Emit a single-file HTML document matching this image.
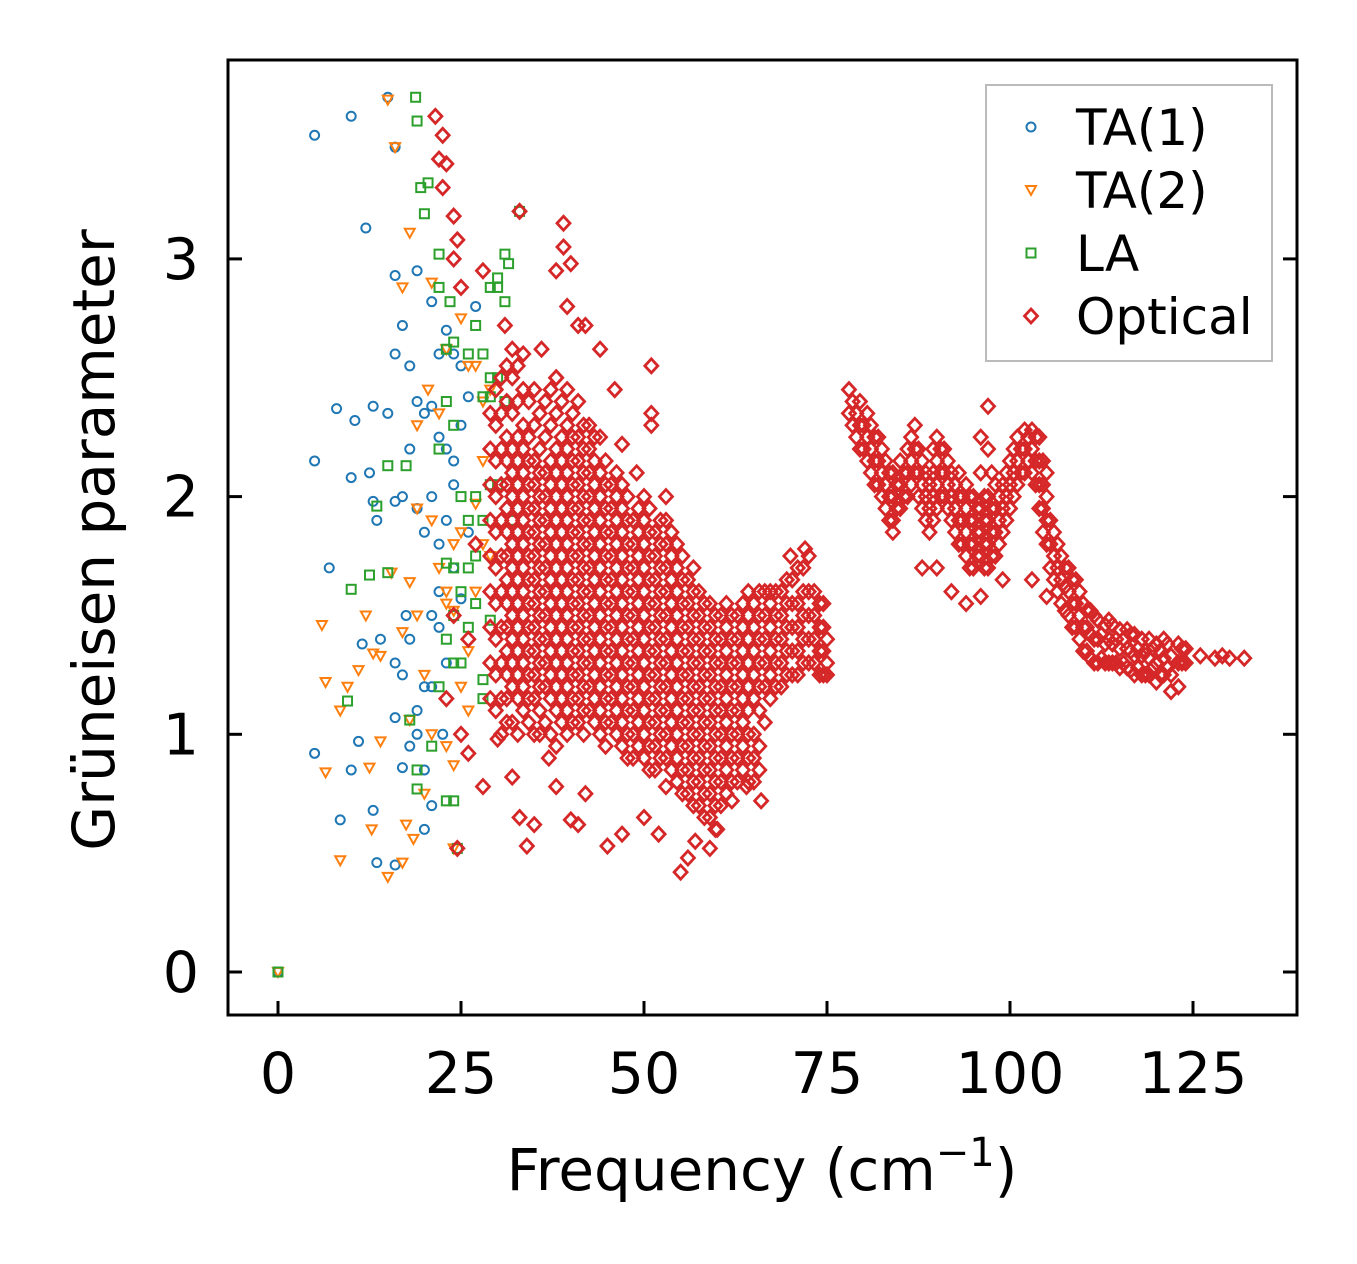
<!DOCTYPE html>
<html><head><meta charset="utf-8"><style>
html,body{margin:0;padding:0;background:#fff}
svg{display:block}
text{font-family:"DejaVu Sans","Liberation Sans",sans-serif;fill:#000}
</style></head><body>
<svg id="chart" width="1357" height="1264" viewBox="0 0 1357 1264" xmlns="http://www.w3.org/2000/svg">
<g id="marks"></g>
<rect x="228" y="60" width="1069" height="955" fill="none" stroke="#000" stroke-width="3"/>
<g id="axes"></g>
<text x="0" y="0" font-size="58" text-anchor="middle" transform="translate(114,540) rotate(-90)">Grüneisen parameter</text>
<text x="762" y="1190" font-size="58" text-anchor="middle">Frequency (cm<tspan dy="-24" font-size="40">−1</tspan><tspan dy="24">)</tspan></text>
<g>
<rect x="986" y="85" width="286" height="276" fill="#fff" stroke="#bbb" stroke-width="2"/>
<g id="legend-items"></g>
</g>
</svg>
<script>
const xTicks=[0,25,50,75,100,125];
const yTicks=[0,1,2,3];
const ta1=[[0,0],[5,3.52],[10,3.6],[12,3.13],[15,3.68],[16,3.47],[5,2.15],[8,2.37],[10.5,2.32],[13,2.38],[15,2.35],[10,2.08],[12.5,2.1],[13,1.98],[13.5,1.9],[7,1.7],[5,0.92],[10,0.85],[11,0.97],[8.5,0.64],[13,0.68],[13.5,0.46],[16,0.45],[11.5,1.38],[14,1.4],[16,2.93],[17,2.72],[19,2.95],[18,2.55],[16,2.6],[19,2.4],[20,2.35],[21,2.82],[21,2.38],[22,2.6],[23,2.7],[24,2.6],[25,2.55],[26,2.42],[27,2.8],[16,1.98],[17,2.0],[18,2.2],[19,1.95],[20,1.85],[21,2.0],[22,1.8],[23,1.9],[24,2.05],[16,1.3],[17,1.25],[18,1.4],[19,1.1],[20,1.2],[21,1.5],[22,1.6],[23,1.3],[16,1.07],[18,0.95],[20,0.85],[21,0.7],[20,0.6],[17,0.86],[19,1.0],[22,1.45],[24,1.7],[25,1.57],[26,1.85],[17.5,1.5],[21,1.2],[22.5,1.0],[22,2.25],[23,2.2],[24,2.15],[25,2.3]];
const ta2=[[0,0],[15,3.67],[16,3.47],[18,3.11],[17,2.88],[6,1.46],[6.5,1.22],[9.5,1.2],[8.5,1.1],[11,1.27],[12,1.5],[13,1.34],[14,1.33],[12.5,0.86],[14,0.97],[12.8,0.6],[6.5,0.84],[8.5,0.47],[15,0.4],[17,0.46],[17.5,0.62],[18.5,0.56],[15.5,1.68],[18,1.64],[17,1.43],[19,1.5],[20,1.25],[19,1.95],[21,1.9],[22,1.7],[23,1.6],[24,1.52],[25,1.2],[26,1.1],[19,2.3],[20.5,2.45],[21,2.9],[23,2.62],[25,2.75],[26,2.55],[27,2.55],[28,2.4],[29,2.45],[28,2.15],[27,1.97],[24,1.8],[22,2.35],[21,1.0],[20,0.75],[24,0.87],[23,0.95],[18,1.06],[27,1.6],[29,1.75],[24,0.52],[26,1.35],[28,1.8],[23,1.55],[25,1.85]];
const la=[[0,0],[18.8,3.68],[19,3.58],[19.5,3.3],[20.5,3.32],[20,3.19],[22,3.02],[33,3.2],[31,3.02],[31.5,2.98],[30,2.92],[29,2.88],[30,2.88],[31,2.82],[23.5,2.82],[22,2.88],[27,2.72],[26,2.6],[23,2.62],[24,2.65],[28,2.6],[29,2.5],[30,2.5],[31,2.4],[29,2.42],[28,2.42],[23,2.4],[24,2.3],[22,2.2],[17.5,2.13],[15,2.13],[12.5,1.67],[10,1.61],[13.5,1.96],[15,1.68],[9.5,1.14],[18,1.06],[19,0.85],[19,0.77],[23,0.72],[24,0.72],[24.5,0.52],[21,0.95],[22,1.2],[23,1.4],[24,1.5],[25,1.6],[26,1.7],[27,1.75],[28,1.9],[29,2.05],[30,2.05],[32,1.9],[26,1.9],[27,2.0],[25,2.0],[24,1.3],[25,1.3],[28,1.15],[28,1.23],[23,1.72],[24,1.7],[26,1.45],[27,1.55],[29,1.48]];
const opticalCols=[[29,[1.15,1.3,1.45,1.6,1.75,1.9,2.05,2.2,2.35]],[30.5,[1.0,1.15,1.3,1.45,1.6,1.75,1.9,2.05,2.2,2.35,2.5]],[32,[1.05,1.2,1.3,1.4,1.5,1.6,1.7,1.8,1.9,2.0,2.1,2.2,2.35,2.5,2.62]],[33.5,[1.1,1.2,1.3,1.4,1.5,1.6,1.7,1.8,1.9,2.0,2.1,2.2,2.3,2.45,2.6]],[35,[1.0,1.15,1.25,1.35,1.45,1.55,1.65,1.75,1.85,1.95,2.05,2.15,2.3,2.45]],[36.5,[1.05,1.2,1.3,1.4,1.5,1.6,1.7,1.8,1.9,2.0,2.1,2.25,2.4]],[38,[0.95,1.1,1.2,1.3,1.4,1.5,1.6,1.7,1.8,1.9,2.0,2.1,2.2,2.35,2.5]],[39.5,[1.0,1.1,1.2,1.3,1.4,1.5,1.6,1.7,1.8,1.9,2.0,2.1,2.2,2.3,2.45]],[41,[1.05,1.15,1.25,1.35,1.45,1.55,1.65,1.75,1.85,1.95,2.05,2.15,2.25,2.4]],[42.5,[1.1,1.2,1.3,1.4,1.5,1.6,1.7,1.8,1.9,2.0,2.1,2.2,2.3]],[44,[1.0,1.1,1.2,1.3,1.4,1.5,1.6,1.7,1.8,1.9,2.0,2.1,2.25]],[45.5,[1.05,1.15,1.25,1.35,1.45,1.55,1.65,1.75,1.85,1.95,2.05]],[47,[0.95,1.05,1.15,1.25,1.35,1.45,1.55,1.65,1.75,1.85,1.95,2.05]],[48.5,[0.9,1.0,1.1,1.2,1.3,1.4,1.5,1.6,1.7,1.8,1.9]],[50,[0.9,1.0,1.1,1.2,1.3,1.4,1.5,1.6,1.7,1.8,1.9,2.0]],[51.5,[0.85,0.95,1.05,1.15,1.25,1.35,1.45,1.55,1.65,1.75,1.85]],[53,[0.9,1.0,1.1,1.2,1.3,1.4,1.5,1.6,1.7,1.8,1.9]],[54.5,[0.8,0.9,1.0,1.1,1.2,1.3,1.4,1.5,1.6,1.7,1.8]],[56,[0.75,0.85,0.95,1.05,1.15,1.25,1.35,1.45,1.55,1.65]],[57.5,[0.7,0.8,0.9,1.0,1.1,1.2,1.3,1.4,1.5,1.6]],[59,[0.65,0.75,0.85,0.95,1.05,1.15,1.25,1.35,1.45,1.55]],[60.5,[0.7,0.8,0.9,1.0,1.1,1.2,1.3,1.4,1.5]],[62,[0.8,0.9,1.0,1.1,1.2,1.3,1.4,1.5]],[63.5,[0.85,0.95,1.05,1.15,1.25,1.35,1.45,1.55]],[65,[0.8,0.9,1.0,1.15,1.25,1.35,1.45,1.55]],[66.5,[1.05,1.2,1.3,1.4,1.5,1.6]],[68,[1.2,1.3,1.4,1.5,1.6]],[69.5,[1.25,1.35,1.45,1.55,1.65]],[71,[1.25,1.35,1.45,1.55,1.7]],[72.5,[1.3,1.4,1.5,1.6,1.75]],[74,[1.25,1.35,1.45,1.55]],[75,[1.3,1.4]],
[78,[2.35,2.45]],[79,[2.25,2.35]],[80,[2.2,2.3]],[81,[2.1,2.2,2.3]],[82,[2.05,2.15,2.25]],[83,[1.95,2.05,2.15]],[84,[1.9,2.0,2.1]],[85,[1.95,2.05,2.15]],[86,[2.0,2.1,2.2]],[87,[2.1,2.2,2.3]],[88,[1.95,2.05,2.15]],[89,[1.85,1.95,2.05]],[90,[1.95,2.05,2.15,2.25]],[91,[2.0,2.1,2.2]],[92,[1.9,2.0,2.1]],[93,[1.8,1.9,2.0,2.1]],[94,[1.75,1.85,1.95,2.05]],[95,[1.7,1.8,1.9,2.0]],[96,[1.75,1.85,1.95,2.1,2.25]],[97,[1.7,1.8,1.9,2.0,2.2]],[98,[1.75,1.85,1.95,2.05]],[99,[1.85,1.95,2.05]],[100,[1.95,2.05,2.15]],[101,[2.05,2.15,2.25]],[102,[2.1,2.2,2.28]],[103,[2.1,2.2,2.28]],[104,[1.95,2.05,2.15,2.25]],[105,[1.8,1.9,2.0,2.1]],[106,[1.65,1.75,1.85]],[107,[1.55,1.65,1.75]],[108,[1.5,1.6,1.7]],[109,[1.45,1.55,1.65]],[110,[1.35,1.45,1.55]],[111,[1.32,1.42,1.52]],[112,[1.3,1.4,1.48]],[113,[1.3,1.38,1.46]],[114,[1.3,1.38,1.46]],[115,[1.28,1.36,1.44]],[116,[1.28,1.36,1.44]],[117,[1.25,1.33,1.42]],[118,[1.25,1.33,1.4]],[119,[1.25,1.32,1.4]],[120,[1.22,1.3,1.38]],[121,[1.25,1.32,1.4]],[122,[1.25,1.33]],[123,[1.2,1.3,1.38]],[124,[1.3,1.36]],[126,[1.33]],[128,[1.32]],[129,[1.33]],[130,[1.32]],[132,[1.32]]];
const opticalCols2=[[29.75,[1.1,1.25,1.4,1.55,1.7,1.85,2.0,2.15,2.3,2.45]],[31.25,[1.05,1.15,1.25,1.35,1.45,1.55,1.65,1.75,1.85,1.95,2.05,2.15,2.25,2.4,2.55]],[32.75,[1.0,1.15,1.25,1.35,1.45,1.55,1.65,1.75,1.85,1.95,2.05,2.15,2.25,2.4,2.55]],[34.25,[1.05,1.15,1.25,1.35,1.45,1.55,1.65,1.75,1.85,1.95,2.05,2.15,2.25,2.4]],[35.75,[1.0,1.1,1.2,1.3,1.4,1.5,1.6,1.7,1.8,1.9,2.0,2.1,2.2,2.35]],[37.25,[1.0,1.15,1.25,1.35,1.45,1.55,1.65,1.75,1.85,1.95,2.05,2.15,2.3,2.45]],[38.75,[1.05,1.15,1.25,1.35,1.45,1.55,1.65,1.75,1.85,1.95,2.05,2.15,2.25,2.4]],[40.25,[1.05,1.15,1.25,1.35,1.45,1.55,1.65,1.75,1.85,1.95,2.05,2.15,2.25,2.35]],[41.75,[1.0,1.1,1.2,1.3,1.4,1.5,1.6,1.7,1.8,1.9,2.0,2.1,2.2,2.3]],[43.25,[1.05,1.15,1.25,1.35,1.45,1.55,1.65,1.75,1.85,1.95,2.05,2.15,2.25]],[44.75,[0.95,1.05,1.15,1.25,1.35,1.45,1.55,1.65,1.75,1.85,1.95,2.05,2.15]],[46.25,[1.0,1.1,1.2,1.3,1.4,1.5,1.6,1.7,1.8,1.9,2.0,2.1]],[47.75,[0.9,1.0,1.1,1.2,1.3,1.4,1.5,1.6,1.7,1.8,1.9,2.0]],[49.25,[0.95,1.05,1.15,1.25,1.35,1.45,1.55,1.65,1.75,1.85,1.95]],[50.75,[0.85,0.95,1.05,1.15,1.25,1.35,1.45,1.55,1.65,1.75,1.85,1.95]],[52.25,[0.9,1.0,1.1,1.2,1.3,1.4,1.5,1.6,1.7,1.8,1.9]],[53.75,[0.85,0.95,1.05,1.15,1.25,1.35,1.45,1.55,1.65,1.75,1.85]],[55.25,[0.75,0.85,0.95,1.05,1.15,1.25,1.35,1.45,1.55,1.65,1.75]],[56.75,[0.7,0.8,0.9,1.0,1.1,1.2,1.3,1.4,1.5,1.6,1.7]],[58.25,[0.65,0.75,0.85,0.95,1.05,1.15,1.25,1.35,1.45,1.55]],[59.75,[0.6,0.7,0.8,0.9,1.0,1.1,1.2,1.3,1.4,1.5]],[61.25,[0.75,0.85,0.95,1.05,1.15,1.25,1.35,1.45,1.55]],[62.75,[0.8,0.9,1.0,1.1,1.2,1.3,1.4,1.5]],[64.25,[0.8,0.9,1.0,1.1,1.2,1.3,1.4,1.5,1.6]],[65.75,[0.85,0.95,1.1,1.2,1.3,1.4,1.5,1.6]],[67.25,[1.15,1.25,1.35,1.45,1.55,1.6]],[68.75,[1.2,1.3,1.4,1.5,1.6]],[70.25,[1.25,1.35,1.45,1.55,1.65]],[71.75,[1.3,1.4,1.5,1.6,1.7]],[73.25,[1.3,1.4,1.5,1.6]],[74.5,[1.25,1.35,1.45,1.55]],
[78.5,[2.3,2.4]],[79.5,[2.2,2.3,2.4]],[80.5,[2.15,2.25,2.35]],[81.5,[2.05,2.15,2.25]],[82.5,[2.0,2.1,2.2]],[83.5,[1.9,2.0,2.1]],[84.5,[1.95,2.05]],[85.5,[2.0,2.1]],[86.5,[2.05,2.15,2.25]],[87.5,[2.0,2.1,2.2]],[88.5,[1.9,2.0,2.1]],[89.5,[1.9,2.0,2.1,2.2]],[90.5,[2.0,2.1,2.2]],[91.5,[1.95,2.05,2.15]],[92.5,[1.85,1.95,2.05]],[93.5,[1.8,1.9,2.0]],[94.5,[1.7,1.8,1.9,2.0]],[95.5,[1.75,1.85,1.95]],[96.5,[1.7,1.8,1.9,2.0]],[97.5,[1.75,1.85,1.95,2.1]],[98.5,[1.8,1.9,2.0]],[99.5,[1.9,2.0,2.1]],[100.5,[2.0,2.1,2.2]],[101.5,[2.1,2.2]],[102.5,[2.15,2.25]],[103.5,[2.05,2.15,2.25]],[104.5,[1.85,1.95,2.05,2.15]],[105.5,[1.7,1.8,1.9]],[106.5,[1.6,1.7,1.8]],[107.5,[1.52,1.62,1.7]],[108.5,[1.45,1.55,1.65]],[109.5,[1.4,1.5,1.6]],[110.5,[1.35,1.45,1.52]],[111.5,[1.3,1.4,1.5]],[112.5,[1.32,1.42]],[113.5,[1.3,1.4,1.48]],[114.5,[1.3,1.4]],[115.5,[1.3,1.4]],[116.5,[1.27,1.35,1.42]],[117.5,[1.28,1.36]],[118.5,[1.25,1.35]],[119.5,[1.28,1.36]],[120.5,[1.25,1.35]],[121.5,[1.28,1.38]],[123.5,[1.3,1.36]]];
const opticalExtra=[[21.5,3.6],[22.5,3.52],[22,3.42],[23,3.4],[22.5,3.3],[24,3.18],[24.5,3.08],[24,3.0],[25,2.88],[28,2.95],[31,2.72],[33,3.2],[39,3.15],[39,3.05],[38,2.95],[40,2.98],[39.5,2.8],[41,2.72],[42,2.72],[36,2.62],[44,2.62],[38,2.5],[46,2.45],[47,2.22],[49,2.1],[51,2.55],[51,2.35],[51,2.3],[53,2.0],[24,1.5],[25,1.0],[26,0.92],[28,0.78],[30,0.98],[32,0.82],[33,0.65],[34,0.53],[35,0.62],[37,0.9],[38,0.78],[40,0.64],[41,0.62],[42,0.75],[45,0.53],[47,0.58],[50,0.65],[52,0.58],[53,0.78],[55,0.42],[56,0.48],[57,0.55],[59,0.52],[60,0.6],[62,0.72],[64,0.78],[66,0.72],[70,1.75],[72,1.78],[75,1.25],[84,1.85],[88,1.7],[90,1.7],[92,1.6],[94,1.55],[96,1.58],[97,2.38],[99,1.65],[103,1.65],[105,1.58],[122,1.18],[24.5,0.52],[23,1.15],[26,1.4],[27,1.8]];

const NS="http://www.w3.org/2000/svg";
function sx(v){return 278+v*7.32;}
function sy(v){return 972-v*237.7;}
const C={ta1:"#1f77b4",ta2:"#ff7f0e",la:"#2ca02c",opt:"#d62728"};
function mk(type,x,y){
  let el;
  if(type==="ta1"){el=document.createElementNS(NS,"circle");el.setAttribute("cx",x);el.setAttribute("cy",y);el.setAttribute("r",4.5);}
  else if(type==="ta2"){el=document.createElementNS(NS,"polygon");el.setAttribute("points",`${x-5},${y-4} ${x+5},${y-4} ${x},${y+5}`);}
  else if(type==="la"){el=document.createElementNS(NS,"rect");el.setAttribute("x",x-4.5);el.setAttribute("y",y-4.5);el.setAttribute("width",9);el.setAttribute("height",9);}
  else {el=document.createElementNS(NS,"polygon");el.setAttribute("points",`${x},${y-7} ${x+6.5},${y} ${x},${y+7} ${x-6.5},${y}`);}
  el.setAttribute("fill","none");el.setAttribute("stroke",C[type]);el.setAttribute("stroke-width",type==="opt"?"2.8":"2");
  return el;
}
const marks=document.getElementById("marks");
function series(type,name,pts){
  const g=document.createElementNS(NS,"g");
  
  
  pts.forEach(p=>{
    const el=mk(type,sx(p[0]),sy(p[1]));
    
    
    g.appendChild(el);
  });
  marks.appendChild(g);
}
series("ta1","ta1-series",ta1);
series("ta2","ta2-series",ta2);
series("la","la-series",la);
const optPts=[];
opticalCols.forEach(c=>c[1].forEach(y=>optPts.push([c[0],y])));
opticalCols2.forEach(c=>c[1].forEach(y=>optPts.push([c[0],y])));
opticalExtra.forEach(p=>optPts.push(p));
series("opt","optical-series",optPts);

const axes=document.getElementById("axes");
xTicks.forEach(t=>{
  const x=sx(t);
  const l=document.createElementNS(NS,"line");
  l.setAttribute("x1",x);l.setAttribute("x2",x);l.setAttribute("y1",1015);l.setAttribute("y2",1001);
  l.setAttribute("stroke","#000");l.setAttribute("stroke-width","3");
  
  
  axes.appendChild(l);
  const tx=document.createElementNS(NS,"text");
  tx.setAttribute("x",x);tx.setAttribute("y",1093);tx.setAttribute("font-size","57");tx.setAttribute("text-anchor","middle");
  tx.textContent=t;
  
  
  axes.appendChild(tx);
});
yTicks.forEach(t=>{
  const y=sy(t);
  [[228,242],[1297,1283]].forEach(s=>{
    const l=document.createElementNS(NS,"line");
    l.setAttribute("x1",s[0]);l.setAttribute("x2",s[1]);l.setAttribute("y1",y);l.setAttribute("y2",y);
    l.setAttribute("stroke","#000");l.setAttribute("stroke-width","3");
    
    
    axes.appendChild(l);
  });
  const tx=document.createElementNS(NS,"text");
  tx.setAttribute("x",199);tx.setAttribute("y",y+20);tx.setAttribute("font-size","57");tx.setAttribute("text-anchor","end");
  tx.textContent=t;
  
  
  axes.appendChild(tx);
});
const legendItems=[["ta1","TA(1)"],["ta2","TA(2)"],["la","LA"],["opt","Optical"]];
const lg=document.getElementById("legend-items");
legendItems.forEach((it,i)=>{
  const y=127+i*63;
  const m=mk(it[0],1031,y);
  
  
  lg.appendChild(m);
  const tx=document.createElementNS(NS,"text");
  tx.setAttribute("x",1076);tx.setAttribute("y",y+18);tx.setAttribute("font-size","50");
  tx.textContent=it[1];
  
  
  lg.appendChild(tx);
});
</script>
</body></html>
